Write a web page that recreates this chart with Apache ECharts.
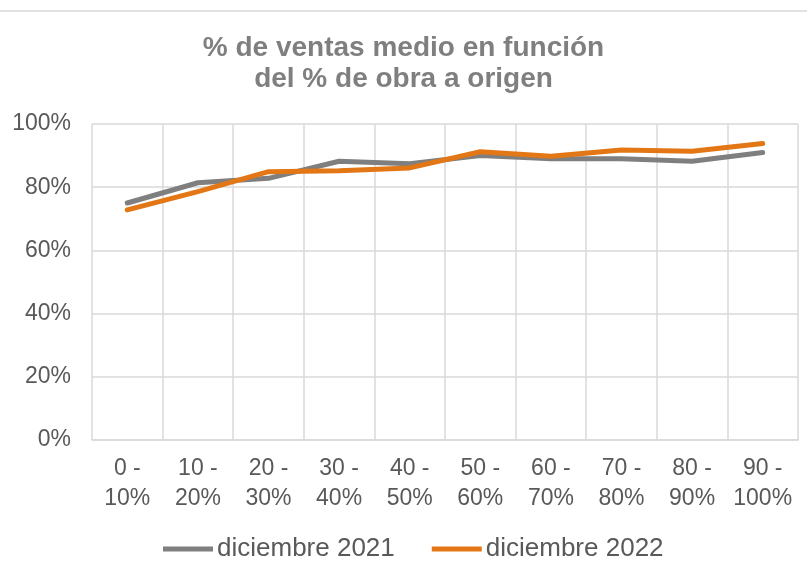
<!DOCTYPE html>
<html>
<head>
<meta charset="utf-8">
<script src="https://cdn.jsdelivr.net/npm/echarts@6/dist/echarts.min.js"></script>
<style>
	html, body { margin: 0; padding: 0; background: #fff; }
	#main { width: 807px; height: 574px; }
</style>
</head>
<body>
<div id="main"></div>
<script>
// categorias del eje x
var categorias = ['0 -\n10%', '10 -\n20%', '20 -\n30%', '30 -\n40%', '40 -\n50%',
	'50 -\n60%', '60 -\n70%', '70 -\n80%', '80 -\n90%', '90 -\n100%'];
// % de ventas medio
var dic2021 = [75, 81.4, 82.8, 88.2, 87.4, 90, 89, 89, 88.2, 91];
var dic2022 = [72.8, 78.6, 84.9, 85.2, 86.1, 91.2, 89.8, 91.8, 91.4, 93.8];
var nombres = ['diciembre 2021', 'diciembre 2022'];

var myChart = echarts.init(document.getElementById('main'));

var option = {
	backgroundColor: '#fff',
	title: {
		text: '% de ventas medio en función\ndel % de obra a origen',
		left: 'center',
		top: 28,
		textStyle: {
			fontFamily: 'Liberation Sans',
			fontSize: 28,
			fontWeight: 'bold',
			color: '#7f7f7f',
			lineHeight: 31
		}
	},
	graphic: [{
		type: 'line',
		shape: { x1: 0, y1: 11, x2: 807, y2: 11 },
		style: { stroke: '#d9d9d9', lineWidth: 1.5 }
	}],
	legend: {
		top: 531,
		left: 158,
		icon: 'rect',
		itemWidth: 50,
		itemHeight: 5,
		itemGap: 37,
		textStyle: { fontFamily: 'Liberation Sans', fontSize: 26, color: '#595959', padding: [0, 0, 0, -1] },
		data: nombres
	},
	grid: { left: 92, right: 9, top: 124, bottom: 134 },
	xAxis: {
		type: 'category',
		data: categorias,
		boundaryGap: true,
		axisTick: { show: false },
		axisLine: { lineStyle: { color: '#d9d9d9', width: 1.5 } },
		splitLine: { show: true, lineStyle: { color: '#d9d9d9', width: 1.5 } },
		axisLabel: {
			fontFamily: 'Liberation Sans',
			fontSize: 23,
			color: '#595959',
			lineHeight: 30,
			margin: 14,
			interval: 0
		}
	},
	yAxis: {
		type: 'value',
		min: 0,
		max: 100,
		interval: 20,
		axisLine: { show: false },
		axisTick: { show: false },
		splitLine: { lineStyle: { color: '#d9d9d9', width: 1.5 } },
		axisLabel: {
			formatter: '{value}%',
			fontFamily: 'Liberation Sans',
			fontSize: 23,
			color: '#595959',
			margin: 21
		}
	},
	series: [{
		name: nombres[0],
		type: 'line',
		data: dic2021,
		symbol: 'none',
		color: '#7f7f7f',
		lineStyle: { width: 5, color: '#7f7f7f', cap: 'round', join: 'round' }
	}, {
		name: nombres[1],
		type: 'line',
		data: dic2022,
		symbol: 'none',
		color: '#e37716',
		lineStyle: { width: 5, color: '#e37716', cap: 'round', join: 'round' }
	}]
};

myChart.setOption(option);
</script>
</body>
</html>
